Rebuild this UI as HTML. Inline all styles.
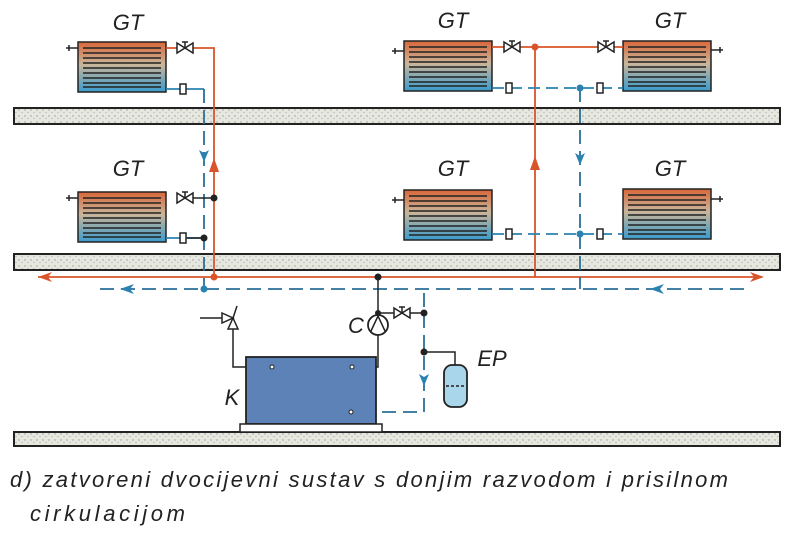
<!DOCTYPE html>
<html><head><meta charset="utf-8"><style>body{margin:0;background:#fff}svg{display:block}</style></head><body>
<svg width="800" height="535" viewBox="0 0 800 535" xmlns="http://www.w3.org/2000/svg">
<defs>
<linearGradient id="rg" x1="0" y1="0" x2="0" y2="1">
<stop offset="0" stop-color="#d9673a"/><stop offset="0.45" stop-color="#c9b59a"/><stop offset="1" stop-color="#3a9ccc"/></linearGradient>
<g id="rad">
<rect x="0" y="0" width="88" height="50" fill="url(#rg)" stroke="#222" stroke-width="1.5"/>
<g stroke="#222" stroke-width="1.6">
<line x1="5" y1="6" x2="83" y2="6"/><line x1="5" y1="11" x2="83" y2="11"/><line x1="5" y1="16" x2="83" y2="16"/><line x1="5" y1="21" x2="83" y2="21"/><line x1="5" y1="26" x2="83" y2="26"/><line x1="5" y1="31" x2="83" y2="31"/><line x1="5" y1="36" x2="83" y2="36"/><line x1="5" y1="41" x2="83" y2="41"/><line x1="5" y1="45" x2="83" y2="45"/></g>
</g>
<g id="valve"><path d="M-8,-5 L8,5 L8,-5 L-8,5 Z" fill="#fff" stroke="#222" stroke-width="1.5"/><line x1="0" y1="0" x2="0" y2="-6" stroke="#222" stroke-width="1.5"/><line x1="-3" y1="-6" x2="3" y2="-6" stroke="#222" stroke-width="1.5"/></g>
<g id="lock"><rect x="-3" y="-5" width="6" height="10" fill="#fff" stroke="#222" stroke-width="1.5"/></g>
<pattern id="dots" width="6" height="6" patternUnits="userSpaceOnUse"><rect width="6" height="6" fill="#e6e8e0"/><circle cx="1" cy="2" r="0.7" fill="#999"/><circle cx="4" cy="4.5" r="0.6" fill="#aaa"/></pattern>
</defs>
<rect x="14" y="108" width="766" height="16" fill="url(#dots)" stroke="#222" stroke-width="2"/>
<rect x="14" y="254" width="766" height="16" fill="url(#dots)" stroke="#222" stroke-width="2"/>
<rect x="14" y="432" width="766" height="14" fill="url(#dots)" stroke="#222" stroke-width="2"/>
<g font-family="Liberation Sans, sans-serif" font-style="italic" font-size="22" fill="#222" text-anchor="middle">
<text x="128" y="30">GT</text><text x="453" y="28">GT</text><text x="670" y="28">GT</text>
<text x="128" y="176">GT</text><text x="453" y="176">GT</text><text x="670" y="176">GT</text>
<text x="356" y="333">C</text><text x="232" y="405">K</text><text x="492" y="366">EP</text>
</g>
<use href="#rad" x="78" y="42"/><use href="#rad" x="78" y="192"/>
<use href="#rad" x="404" y="41"/><use href="#rad" x="623" y="41"/>
<use href="#rad" x="404" y="190"/><use href="#rad" x="623" y="189"/>
<g stroke="#222" stroke-width="1.5">
<line x1="66" y1="48" x2="78" y2="48"/><line x1="69" y1="45" x2="69" y2="51"/>
<line x1="66" y1="198" x2="78" y2="198"/><line x1="69" y1="195" x2="69" y2="201"/>
<line x1="392" y1="51" x2="404" y2="51"/><line x1="395" y1="48" x2="395" y2="54"/>
<line x1="392" y1="200" x2="404" y2="200"/><line x1="395" y1="197" x2="395" y2="203"/>
<line x1="711" y1="50" x2="723" y2="50"/><line x1="720" y1="47" x2="720" y2="53"/>
<line x1="711" y1="199" x2="723" y2="199"/><line x1="720" y1="196" x2="720" y2="202"/>
</g>
<g stroke="#d9542a" stroke-width="1.8" fill="none">
<polyline points="166,48 214,48 214,277"/>
<line x1="38" y1="277" x2="762" y2="277"/>
<line x1="492" y1="47" x2="623" y2="47"/>
<line x1="535" y1="47" x2="535" y2="277"/>
</g>
<g fill="#d9542a">
<path d="M38,277 L52,272 L48,277 L52,282 Z"/><path d="M764,277 L750,272 L754,277 L750,282 Z"/>
<path d="M214,158 L209,172 L219,172 Z"/><path d="M535,156 L530,170 L540,170 Z"/>
<circle cx="214" cy="277" r="3.5"/><circle cx="535" cy="47" r="3.5"/>
</g>
<g stroke="#2a82b0" stroke-width="1.8" fill="none">
<polyline points="166,89 204,89"/>
<line x1="166" y1="238" x2="204" y2="238"/>
<line x1="492" y1="88" x2="623" y2="88" stroke-dasharray="12,6"/>
<line x1="492" y1="234" x2="623" y2="234" stroke-dasharray="12,6"/>
</g>
<g stroke="#2a6f96" stroke-width="1.8" fill="none" stroke-dasharray="14,7">
<line x1="204" y1="89" x2="204" y2="289"/>
<line x1="580" y1="88" x2="580" y2="289"/>
<line x1="100" y1="289" x2="745" y2="289"/>
<polyline points="424,293 424,412 350,412"/>
</g>
<line x1="345" y1="412" x2="372" y2="412" stroke="#2a82b0" stroke-width="2"/>
<g fill="#2a82b0">
<path d="M204,162 L199,150 L204,153 L209,150 Z"/>
<path d="M580,165 L575,153 L580,156 L585,153 Z"/>
<path d="M424,386 L419,374 L424,377 L429,374 Z"/>
<path d="M120,289 L134,284 L130,289 L134,294 Z"/><path d="M650,289 L664,284 L660,289 L664,294 Z"/>
<circle cx="204" cy="289" r="3.5"/><circle cx="580" cy="88" r="3.5"/><circle cx="580" cy="234" r="3.5"/>
</g>
<use href="#valve" x="185" y="48"/><use href="#valve" x="185" y="198"/>
<use href="#valve" x="512" y="47"/><use href="#valve" x="606" y="47"/>
<use href="#lock" x="183" y="89"/><use href="#lock" x="183" y="238"/>
<use href="#lock" x="509" y="88"/><use href="#lock" x="600" y="88"/>
<use href="#lock" x="509" y="234"/><use href="#lock" x="600" y="234"/>
<g stroke="#222" stroke-width="1.5" fill="none">
<line x1="193" y1="198" x2="214" y2="198"/><line x1="187" y1="238" x2="204" y2="238"/>
<polyline points="378,277 378,315"/><polyline points="378,335 378,367 352,367"/>
<line x1="378" y1="313" x2="424" y2="313"/>
<polyline points="424,352 455,352 455,365"/>
<polyline points="200,318 222,318"/><polyline points="233,325 233,367 272,367"/>
</g>
<g fill="#222"><circle cx="214" cy="198" r="3.5"/><circle cx="204" cy="238" r="3.5"/>
<circle cx="378" cy="277" r="3.5"/><circle cx="378" cy="313" r="3"/><circle cx="424" cy="313" r="3.5"/><circle cx="424" cy="352" r="3.5"/></g>
<circle cx="378" cy="325" r="10" fill="#fff" stroke="#222" stroke-width="1.8"/>
<path d="M371,331 L378,316 L385,331" fill="none" stroke="#222" stroke-width="1.5"/>
<use href="#valve" x="402" y="313"/>
<path d="M222,313 L233,318 L222,323 Z M233,318 L228,329 L238,329 Z" fill="#fff" stroke="#222" stroke-width="1.5"/>
<line x1="233" y1="318" x2="237" y2="306" stroke="#222" stroke-width="1.5"/>
<rect x="246" y="357" width="130" height="67" fill="#5c82b8" stroke="#222" stroke-width="1.8"/>
<rect x="240" y="424" width="142" height="8" fill="#fff" stroke="#222" stroke-width="1.5"/>
<circle cx="272" cy="367" r="2" fill="#fff" stroke="#222"/><circle cx="352" cy="367" r="2" fill="#fff" stroke="#222"/><circle cx="351" cy="412" r="2" fill="#fff" stroke="#222"/>
<rect x="444" y="365" width="23" height="42" rx="8" fill="#a9d6ea" stroke="#222" stroke-width="1.8"/>
<line x1="446" y1="386" x2="465" y2="386" stroke="#222" stroke-width="1.5" stroke-dasharray="3,2"/>
<g font-family="Liberation Sans, sans-serif" font-style="italic" font-size="22" fill="#222">
<text x="10" y="487" textLength="718" lengthAdjust="spacing">d) zatvoreni dvocijevni sustav s donjim razvodom i prisilnom</text>
<text x="30" y="521" textLength="155" lengthAdjust="spacing">cirkulacijom</text>
</g>
</svg>
</body></html>
